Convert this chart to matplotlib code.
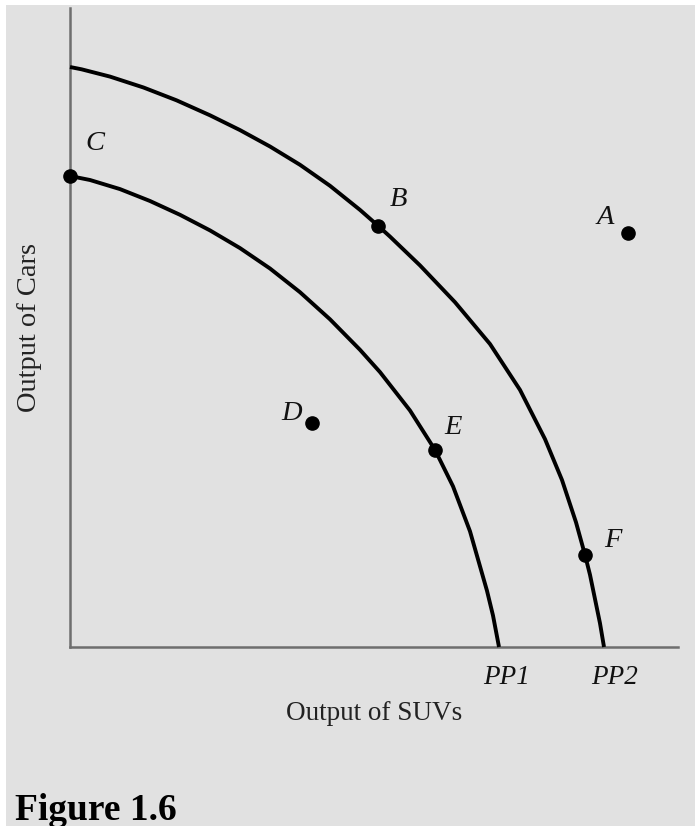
import matplotlib
matplotlib.use("Agg")
import matplotlib.pyplot as plt
from matplotlib.patches import Rectangle

# ---- data ----
# PP2 (outer frontier): output of SUVs vs output of cars
pp2_suvs = [0.0, 1.15, 4.0, 7.35, 10.65, 14.0, 17.0, 20.0, 23.0, 26.0, 29.0,
            30.8, 32.0, 35.0, 38.5, 42.0, 45.0, 47.5, 49.2, 50.6, 51.5, 52.0,
            53.0, 53.4]
pp2_cars = [58.0, 57.77, 57.04, 55.95, 54.67, 53.17, 51.69, 50.05, 48.22,
            46.12, 43.71, 42.13, 41.04, 38.16, 34.48, 30.30, 25.71, 20.79,
            16.70, 12.47, 9.21, 7.22, 2.37, 0.0]

# PP1 (inner frontier)
pp1_suvs = [0.0, 2.0, 5.0, 8.0, 11.0, 14.0, 17.0, 20.0, 23.0, 26.0, 29.0,
            31.0, 34.0, 36.5, 38.3, 40.0, 41.7, 42.3, 42.9]
pp1_cars = [47.1, 46.70, 45.79, 44.60, 43.22, 41.66, 39.89, 37.85, 35.48,
            32.77, 29.72, 27.49, 23.65, 19.71, 16.07, 11.57, 5.62, 3.15, 0.0]

point_names = ["A", "B", "C", "D", "E", "F"]
point_suvs = [55.8, 30.8, 0.0, 24.2, 36.5, 51.5]
point_cars = [41.4, 42.13, 47.1, 22.4, 19.71, 9.21]

curve_names = ["PP1", "PP2"]
x_label = "Output of SUVs"
y_label = "Output of Cars"
caption = "Figure 1.6"

# ---- styling ----
W, H = 695, 826
BG = "#e1e1e1"
AXIS_COL = "#6e6e6e"
SERIF = ["Liberation Serif", "DejaVu Serif"]

fig = plt.figure(figsize=(W / 100, H / 100), dpi=100, facecolor="white")
fig.patches.append(Rectangle((6 / W, 0), 1 - 6 / W, 1 - 5 / H,
                             transform=fig.transFigure, facecolor=BG,
                             edgecolor="none", zorder=-10))

# axes box: left edge at x=70px, bottom at y=647px, right 678px, top 8px
ax = fig.add_axes([70 / W, (H - 647) / H, 608 / W, 639 / H])
ax.set_facecolor("none")
ax.set_xlim(0, 60.8)
ax.set_ylim(0, 63.9)
for side in ("top", "right"):
    ax.spines[side].set_visible(False)
for side in ("left", "bottom"):
    ax.spines[side].set_color(AXIS_COL)
    ax.spines[side].set_linewidth(1.8)
ax.set_xticks([])
ax.set_yticks([])

for xs, ys in ((pp2_suvs, pp2_cars), (pp1_suvs, pp1_cars)):
    ax.plot(xs, ys, color="black", lw=2.8, solid_capstyle="butt",
            solid_joinstyle="round", clip_on=False, zorder=3)

ax.plot(point_suvs, point_cars, "o", color="black", markersize=9.5,
        clip_on=False, zorder=4)

label_offsets = {"A": (-23, 15), "B": (20, 26), "C": (25, 33),
                 "D": (-20, 10), "E": (18, 22), "F": (28, 14)}
for name, xs, ys in zip(point_names, point_suvs, point_cars):
    ax.annotate(name, (xs, ys), xytext=label_offsets[name],
                textcoords="offset pixels", ha="center", va="center",
                fontsize=20.5, fontstyle="italic", family=SERIF,
                color="#111111", annotation_clip=False)

curve_ends = [pp1_suvs[-1], pp2_suvs[-1]]
curve_offsets = [(8, -31), (11, -31)]
for name, xe, off in zip(curve_names, curve_ends, curve_offsets):
    ax.annotate(name, (xe, 0), xytext=off, textcoords="offset pixels",
                ha="center", va="center", fontsize=19.5, fontstyle="italic",
                family=SERIF, color="#111111", annotation_clip=False)

fig.text(374 / W, 1 - 713 / H, x_label, ha="center", va="center",
         fontsize=19.5, family=SERIF, color="#222222")
fig.text(30 / W, 1 - 327 / H, y_label, ha="center", va="center",
         rotation=90, fontsize=20.5, family=SERIF, color="#222222")
fig.text(15 / W, (H - 820) / H, caption, ha="left", va="baseline",
         fontsize=27, fontweight="bold", family=SERIF, color="black")

fig.savefig("out.png", dpi=100, facecolor=fig.get_facecolor())
